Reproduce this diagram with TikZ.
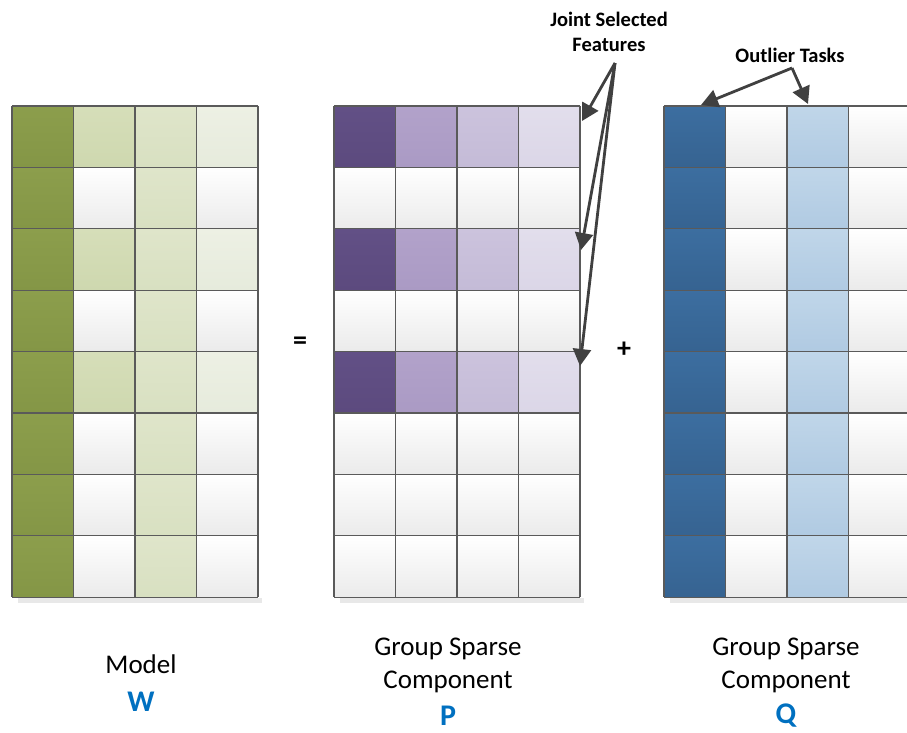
\documentclass[tikz,border=0pt]{standalone}
\usepackage{fontspec}
\setmainfont{Carlito}
\usetikzlibrary{arrows.meta}

\definecolor{gridline}{HTML}{5A5A5A}
\definecolor{arrowgray}{HTML}{404040}
\definecolor{titleblue}{HTML}{0070C0}
\definecolor{shadowgray}{HTML}{E8E8E8}

% cell colours
\tikzset{
  blank/.style   = {top color = white, bottom color = black!8},
  wdark/.style   = {top color = {rgb,255:red,140;green,158;blue,76},  bottom color = {rgb,255:red,132;green,150;blue,70}},
  wlight/.style  = {top color = {rgb,255:red,214;green,222;blue,185}, bottom color = {rgb,255:red,206;green,216;blue,175}},
  wmid/.style    = {top color = {rgb,255:red,223;green,229;blue,202}, bottom color = {rgb,255:red,216;green,224;blue,193}},
  wpale/.style   = {top color = {rgb,255:red,237;green,240;blue,228}, bottom color = {rgb,255:red,230;green,235;blue,220}},
  pdark/.style   = {top color = {rgb,255:red,98;green,80;blue,134},   bottom color = {rgb,255:red,92;green,74;blue,126}},
  pmid/.style    = {top color = {rgb,255:red,178;green,162;blue,202}, bottom color = {rgb,255:red,170;green,154;blue,196}},
  plight/.style  = {top color = {rgb,255:red,204;green,195;blue,221}, bottom color = {rgb,255:red,196;green,187;blue,215}},
  ppale/.style   = {top color = {rgb,255:red,226;green,222;blue,236}, bottom color = {rgb,255:red,219;green,214;blue,231}},
  qdark/.style   = {top color = {rgb,255:red,60;green,110;blue,160},  bottom color = {rgb,255:red,54;green,99;blue,145}},
  qlight/.style  = {top color = {rgb,255:red,192;green,214;blue,233}, bottom color = {rgb,255:red,176;green,202;blue,226}},
}

\newcommand{\cw}{61.5}
\newcommand{\rh}{61.4}
% origin x, column, row, style
\newcommand{\paintcell}[4]{%
  \path[#4] ({#1+(#2-1)*\cw},{106+(#3-1)*\rh}) rectangle ++(\cw,\rh);}
% origin x
\newcommand{\gridlines}[1]{%
  \fill[shadowgray] ({#1+6},598) rectangle ++(244,5);
  \foreach \r in {1,...,8} \foreach \c in {1,...,4} {\paintcell{#1}{\c}{\r}{blank}}%
}
\newcommand{\gridborder}[1]{%
  \foreach \c in {0,...,4} \draw[cell] ({#1+\c*\cw},106) -- ++(0,{8*\rh});
  \foreach \r in {0,...,8} \draw[cell] (#1,{106+\r*\rh}) -- ++({4*\cw},0);
}

\begin{document}
\begin{tikzpicture}[
     x = 1pt, y = -1pt,
     every node/.style = {inner sep = 0pt, font = \fontsize{27}{33}\selectfont},
     cell/.style = {draw = gridline, line width = 1.3pt},
     pointer/.style = {draw = arrowgray, line width = 2.8pt,
        -{Triangle[length = 17pt, width = 18pt]}},
     callout/.style = {font = \fontsize{20.5}{25}\selectfont\bfseries, align = center},
     sign/.style = {font = \fontsize{28}{28}\selectfont\bfseries},
     caption/.style = {align = center},
     letter/.style = {font = \fontsize{30}{30}\selectfont\bfseries, text = titleblue}
     ]
  \useasboundingbox (0,0) rectangle (907,732);
  \clip (0,0) rectangle (907,732);

  % model W
  \gridlines{12}
  \foreach \r in {1,...,8} {\paintcell{12}{1}{\r}{wdark} \paintcell{12}{3}{\r}{wmid}}
  \foreach \r in {1,3,5} {\paintcell{12}{2}{\r}{wlight} \paintcell{12}{4}{\r}{wpale}}
  \gridborder{12}

  % component P
  \gridlines{334}
  \foreach \r in {1,3,5} {
    \paintcell{334}{1}{\r}{pdark} \paintcell{334}{2}{\r}{pmid}
    \paintcell{334}{3}{\r}{plight} \paintcell{334}{4}{\r}{ppale}}
  \gridborder{334}

  % component Q
  \gridlines{664}
  \foreach \r in {1,...,8} {\paintcell{664}{1}{\r}{qdark} \paintcell{664}{3}{\r}{qlight}}
  \gridborder{664}

  \node[sign] (eq) at (300,343) {=};
  \node[sign] (plus) at (624,350) {+};

  \node[callout] (joint) at (609,32) {Joint Selected\\Features};
  \node[callout] (outlier) at (790,55) {Outlier Tasks};

  \coordinate (jtail) at (615,63);
  \coordinate (otail) at (792,68);
  \coordinate (p1) at (582,121); % row 1
  \coordinate (p3) at (581,250); % row 3
  \coordinate (p5) at (580,366); % row 5
  \coordinate (q1) at (701,105);
  \coordinate (q3) at (808,104);
  \draw[pointer] (jtail) -- (p1);
  \draw[pointer] (jtail) -- (p3);
  \draw[pointer] (jtail) -- (p5);
  \draw[pointer] (otail) -- (q1);
  \draw[pointer] (otail) -- (q3);

  \node[caption] (modelW) at (141,664) {Model};
  \node[letter] (W) at (141,702) {W};
  \node[caption] (compP) at (448,665) {Group Sparse\\Component};
  \node[letter] (P) at (448,716) {P};
  \node[caption] (compQ) at (786,665) {Group Sparse\\Component};
  \node[letter] (Q) at (786,716) {Q};
\end{tikzpicture}
\end{document}
